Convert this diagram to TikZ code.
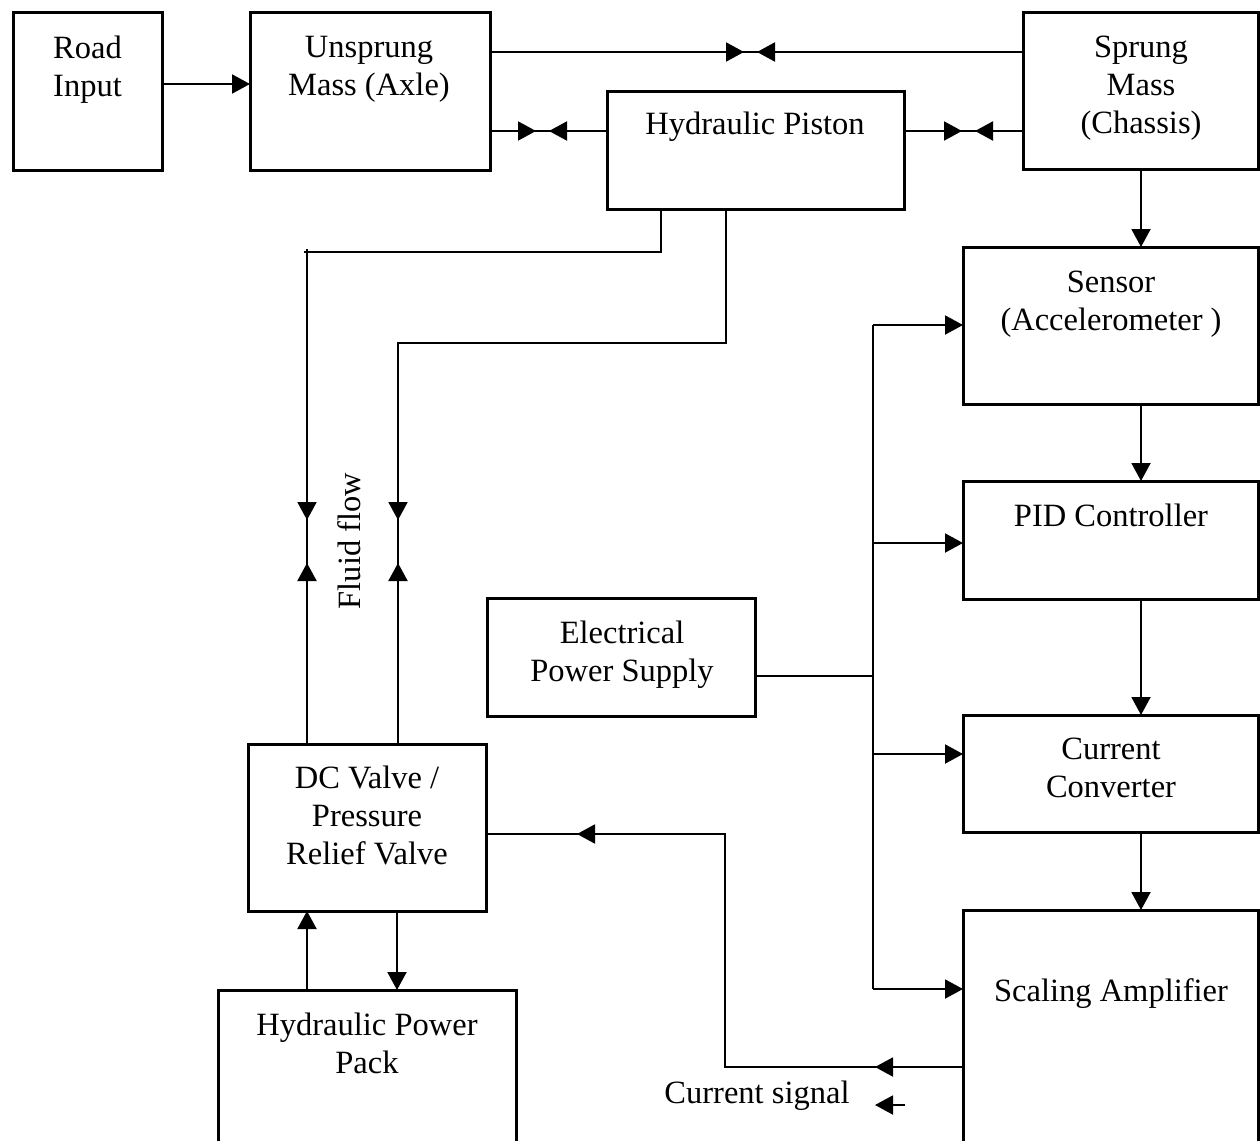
\documentclass[tikz,border=0pt]{standalone}
\usepackage{fontspec}
\setmainfont{Liberation Serif}
\usetikzlibrary{arrows.meta}
\begin{document}
\begin{tikzpicture}[x=1pt,y=-1pt,
  box/.style={draw, line width=3pt, inner sep=0pt, outer sep=0pt, anchor=north west},
  conn/.style={line width=2pt},
  tip/.style={-{Triangle[length=18pt,width=19pt]}},
  lbl/.style={align=center, font=\fontsize{32.5}{38}\selectfont, inner sep=0pt, text depth=0pt}]
\useasboundingbox (0,0) rectangle (1260,1140);
\clip (0,0) rectangle (1260,1140);
% boxes
\node[box, minimum width=149pt, minimum height=157pt] (road)   at (13,13) {};
\node[box, minimum width=240pt, minimum height=157pt] (unspr)  at (250,13) {};
\node[box, minimum width=235pt, minimum height=156pt] (sprung) at (1023,13) {};
\node[box, minimum width=297pt, minimum height=118pt] (piston) at (607,91) {};
\node[box, minimum width=295pt, minimum height=157pt] (sensor) at (963,247) {};
\node[box, minimum width=295pt, minimum height=118pt] (pid)    at (963,481) {};
\node[box, minimum width=295pt, minimum height=117pt] (conv)   at (963,715) {};
\node[box, minimum width=295pt, minimum height=260pt] (amp)    at (963,910) {};
\node[box, minimum width=268pt, minimum height=118pt] (eps)    at (487,598) {};
\node[box, minimum width=238pt, minimum height=167pt] (valve)  at (248,744) {};
\node[box, minimum width=298pt, minimum height=200pt] (pack)   at (218,990) {};
% texts
\node[lbl] (roadT)   at (87.5,66)  {Road\\Input};
\node[lbl] (unsprT)  at (369,66)   {Unsprung\\Mass (Axle)};
\node[lbl] (sprungT) at (1141,85)  {Sprung\\Mass\\(Chassis)};
\node[lbl] (pistonT) at (755,123)  {Hydraulic Piston};
\node[lbl] (sensorT) at (1111,301) {Sensor\\(Accelerometer )};
\node[lbl] (pidT)    at (1111,515) {PID Controller};
\node[lbl] (convT)   at (1111,768) {Current\\Converter};
\node[lbl] (ampT)    at (1111,990) {Scaling Amplifier};
\node[lbl] (epsT)    at (622,651)  {Electrical\\Power Supply};
\node[lbl] (valveT)  at (367,815)  {DC Valve /\\Pressure\\Relief Valve};
\node[lbl] (packT)   at (367,1043) {Hydraulic Power\\Pack};
\node[lbl] (sigT)    at (757,1092) {Current signal};
\node[lbl, rotate=90] (fluidT) at (349,541) {Fluid flow};
% road -> unsprung
\draw[conn,tip] (road.east |- 0,84) -- (unspr.west |- 0,84);
% unsprung <-> sprung (top)
\coordinate (m1) at (744,52);
\coordinate (m2) at (757,52);
\draw[conn] (unspr.east |- 0,52) -- (sprung.west |- 0,52);
\draw[conn,tip] (unspr.east |- 0,52) -- (m1);
\draw[conn,tip] (sprung.west |- 0,52) -- (m2);
% unsprung <-> piston
\coordinate (m3) at (536,131);
\coordinate (m4) at (549,131);
\draw[conn] (unspr.east |- 0,131) -- (piston.west |- 0,131);
\draw[conn,tip] (unspr.east |- 0,131) -- (m3);
\draw[conn,tip] (piston.west |- 0,131) -- (m4);
% piston <-> sprung
\coordinate (m5) at (962,131);
\coordinate (m6) at (975,131);
\draw[conn] (piston.east |- 0,131) -- (sprung.west |- 0,131);
\draw[conn,tip] (piston.east |- 0,131) -- (m5);
\draw[conn,tip] (sprung.west |- 0,131) -- (m6);
% right column chain
\draw[conn,tip] (sprung.south -| 1141,0) -- (sensor.north -| 1141,0);
\draw[conn,tip] (sensor.south -| 1141,0) -- (pid.north -| 1141,0);
\draw[conn,tip] (pid.south -| 1141,0) -- (conv.north -| 1141,0);
\draw[conn,tip] (conv.south -| 1141,0) -- (amp.north -| 1141,0);
% power bus
\coordinate (b1) at (873,325);
\coordinate (b2) at (873,543);
\coordinate (be) at (873,676);
\coordinate (b3) at (873,754);
\coordinate (b4) at (873,989);
\draw[conn] (b1) -- (b4);
\draw[conn] (eps.east |- be) -- (be);
\draw[conn,tip] (b1) -- (sensor.west |- b1);
\draw[conn,tip] (b2) -- (pid.west |- b2);
\draw[conn,tip] (b3) -- (conv.west |- b3);
\draw[conn,tip] (b4) -- (amp.west |- b4);
% current signal
\coordinate (c1) at (725,1067);
\coordinate (c2) at (725,834);
\coordinate (s1) at (875,1067);
\coordinate (s2) at (577,834);
\draw[conn] (amp.west |- c1) -- (c1) -- (c2) -- (valve.east |- c2);
\draw[conn,tip] (amp.west |- c1) -- (s1);
\draw[conn,tip] (c2) -- (s2);
\coordinate (sa) at (905,1105);
\coordinate (sb) at (875,1105);
\draw[conn,tip] (sa) -- (sb);
% fluid lines
\coordinate (f1) at (661,252);
\coordinate (f2) at (307,252);
\coordinate (f3) at (307,520);
\coordinate (f4) at (307,563);
\draw[conn] (piston.south -| f1) -- (f1) -- (f2) -- (valve.north -| f2);
\draw[conn] (f2) ++(-3,0) -- +(3,0) (f2) ++(0,-3) -- +(0,3);
\draw[conn,tip] (f2) -- (f3);
\draw[conn,tip] (valve.north -| f2) -- (f4);
\coordinate (g1) at (726,343);
\coordinate (g2) at (398,343);
\coordinate (g3) at (398,520);
\coordinate (g4) at (398,563);
\draw[conn] (piston.south -| g1) -- (g1) -- (g2) -- (valve.north -| g2);
\draw[conn,tip] (g2) -- (g3);
\draw[conn,tip] (valve.north -| g2) -- (g4);
% valve <-> power pack
\draw[conn,tip] (pack.north -| 307,0) -- (valve.south -| 307,0);
\draw[conn,tip] (valve.south -| 397,0) -- (pack.north -| 397,0);
\end{tikzpicture}
\end{document}
